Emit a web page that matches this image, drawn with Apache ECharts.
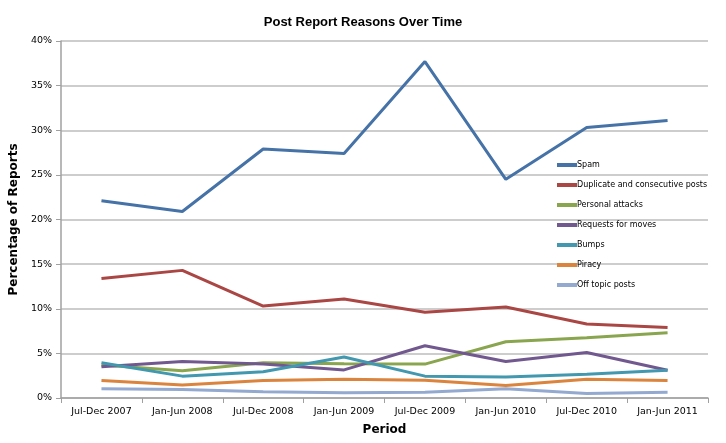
<!DOCTYPE html>
<html>
<head>
<meta charset="UTF-8">
<title>Post Report Reasons Over Time</title>
<script src="https://cdn.jsdelivr.net/npm/echarts@6/dist/echarts.min.js"></script>
</head>
<body style="margin:0;background:#fff">
<div id="chart" style="width:726px;height:443px"></div>
<script type="text/javascript">
    var periods = ['Jul-Dec 2007', 'Jan-Jun 2008', 'Jul-Dec 2008', 'Jan-Jun 2009',
        'Jul-Dec 2009', 'Jan-Jun 2010', 'Jul-Dec 2010', 'Jan-Jun 2011'];
    var spam = [22.1, 20.9, 27.9, 27.4, 37.7, 24.5, 30.3, 31.1];
    var duplicate = [13.4, 14.3, 10.3, 11.1, 9.6, 10.2, 8.3, 7.9];
    var personal = [3.7, 3.05, 3.95, 3.85, 3.8, 6.3, 6.75, 7.3];
    var moves = [3.5, 4.1, 3.8, 3.15, 5.85, 4.1, 5.1, 3.1];
    var bumps = [3.95, 2.45, 2.95, 4.6, 2.45, 2.35, 2.65, 3.1];
    var piracy = [1.95, 1.45, 1.95, 2.1, 2.0, 1.4, 2.1, 1.95];
    var offTopic = [1.05, 0.95, 0.7, 0.6, 0.65, 1.05, 0.5, 0.65];

    var names = ['Spam', 'Duplicate and consecutive posts', 'Personal attacks',
        'Requests for moves', 'Bumps', 'Piracy', 'Off topic posts'];
    var colors = ['#4572A7', '#AA4643', '#89A54E', '#71588F', '#4198AF', '#DB843D', '#93A9CF'];
    var seriesData = [spam, duplicate, personal, moves, bumps, piracy, offTopic];

    var series = [];
    for (var i = 0; i < names.length; i++) {
        series.push({
            name: names[i],
            type: 'line',
            data: seriesData[i],
            symbol: 'none',
            color: colors[i],
            lineStyle: { width: 3, color: colors[i] }
        });
    }

    var myChart = echarts.init(document.getElementById('chart'));
    myChart.setOption({
        animation: false,
        color: colors,
        title: {
            text: 'Post Report Reasons Over Time',
            left: 'center',
            top: 11,
            textStyle: { fontFamily: 'Liberation Sans', fontSize: 13, fontWeight: 'bold', color: '#000' }
        },
        legend: {
            orient: 'vertical',
            left: 552,
            top: 156,
            itemGap: 12,
            itemWidth: 20,
            itemHeight: 4,
            icon: 'rect',
            textStyle: { fontFamily: 'DejaVu Sans', fontSize: 8, color: '#000', padding: [0, 0, 0, -5] },
            data: names
        },
        grid: { left: 60, right: 18, top: 41, bottom: 45 },
        xAxis: {
            type: 'category',
            data: periods,
            boundaryGap: true,
            name: 'Period',
            nameLocation: 'middle',
            nameGap: 26,
            nameTextStyle: { fontFamily: 'DejaVu Sans', fontSize: 12, fontWeight: 'bold', color: '#000' },
            axisLine: { lineStyle: { color: '#a0a0a0', width: 1.5 } },
            axisTick: { show: true, length: 5, lineStyle: { color: '#a0a0a0' } },
            axisLabel: { fontFamily: 'DejaVu Sans', fontSize: 9.5, color: '#000', margin: 9 }
        },
        yAxis: {
            type: 'value',
            min: 0,
            max: 40,
            interval: 5,
            name: 'Percentage of Reports',
            nameLocation: 'middle',
            nameGap: 41,
            nameTextStyle: { fontFamily: 'DejaVu Sans', fontSize: 12, fontWeight: 'bold', color: '#000' },
            axisLine: { show: true, lineStyle: { color: '#a0a0a0', width: 1.5 } },
            axisTick: { show: true, length: 5, lineStyle: { color: '#a0a0a0' } },
            splitLine: { lineStyle: { color: '#bdbdbd', width: 1.5 } },
            axisLabel: {
                fontFamily: 'DejaVu Sans', fontSize: 9.5, color: '#000', margin: 9,
                formatter: function (v) { return v + '%'; }
            }
        },
        series: series
    });
</script>
</body>
</html>
